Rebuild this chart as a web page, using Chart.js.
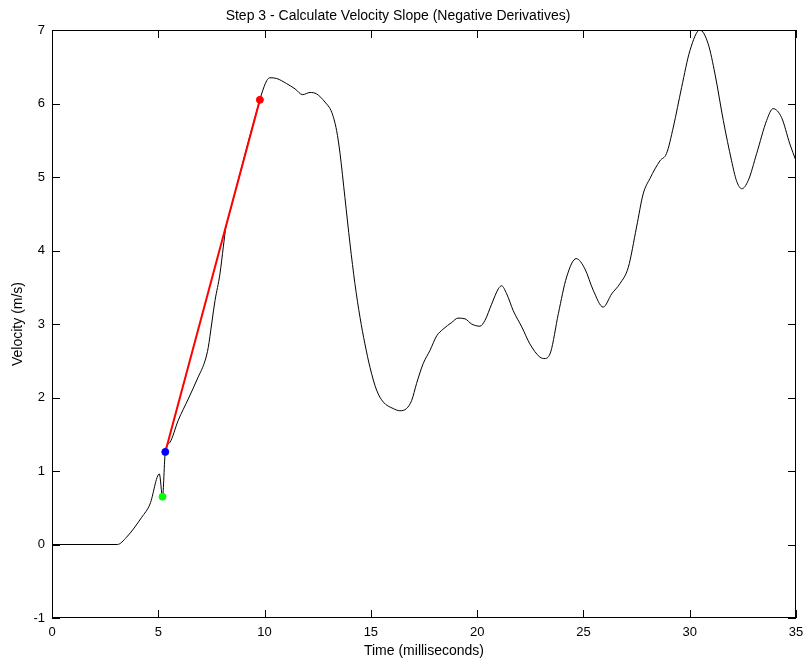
<!DOCTYPE html>
<html>
<head>
<meta charset="utf-8">
<script src="https://cdn.jsdelivr.net/npm/chart.js@4"></script>
<style>
  body { margin: 0; background: #fff; }
  canvas { display: block; }
</style>
</head>
<body>
<canvas id="velocityChart" width="805" height="663"></canvas>
<script>
// Velocity trace (ms, m/s)
const timeMs = [0, 3.07, 3.51, 4.22, 4.61, 5.05, 5.2, 5.33, 5.55, 5.94, 6.41, 6.88, 7.2, 7.35, 7.51, 7.67, 7.9, 8.06, 8.18, 8.3,
  8.84, 9.3, 9.78, 9.86, 10.1, 10.25, 10.57, 11.04, 11.43, 11.79, 12.14, 12.45, 12.84, 13.16, 13.39, 13.55, 13.78, 14.02, 14.25,
  14.49, 14.72, 14.96, 15.27, 15.58, 16.05, 16.37, 16.68, 16.92, 17.15, 17.46, 17.78, 18.1, 18.4, 18.8, 19.1, 19.43, 19.74,
  20.13, 20.37, 20.68, 21.0, 21.15, 21.39, 21.7, 22.1, 22.48, 22.95, 23.2, 23.46, 23.82, 24.21, 24.66, 25.07, 25.46, 25.93,
  26.33, 26.72, 27.11, 27.5, 27.81, 28.13, 28.6, 28.91, 29.23, 29.62, 30.01, 30.48, 30.87, 31.19, 31.58, 31.97, 32.2, 32.45,
  32.75, 33.15, 33.62, 33.92, 34.32, 34.71, 35];
const velocity = [0, 0, 0.10, 0.37, 0.55, 0.96, 0.65, 1.26, 1.39, 1.69, 1.98, 2.28, 2.5, 2.68, 3.0, 3.32, 3.68, 4.05, 4.32, 4.45,
  5.04, 5.55, 6.05, 6.13, 6.31, 6.35, 6.34, 6.27, 6.2, 6.12, 6.15, 6.13, 6.02, 5.88, 5.63, 5.32, 4.72, 4.09, 3.55,
  3.09, 2.73, 2.41, 2.10, 1.94, 1.85, 1.82, 1.85, 1.96, 2.19, 2.46, 2.64, 2.84, 2.93, 3.02, 3.08, 3.07, 3.0,
  2.97, 3.05, 3.27, 3.48, 3.52, 3.41, 3.18, 2.96, 2.73, 2.55, 2.53, 2.62, 3.14, 3.64, 3.89, 3.75, 3.46, 3.23,
  3.41, 3.55, 3.77, 4.32, 4.77, 4.98, 5.22, 5.32, 5.68, 6.22, 6.72, 7.0, 6.81, 6.4, 5.77, 5.22, 4.95, 4.84,
  4.95, 5.32, 5.77, 5.93, 5.81, 5.45, 5.22];

// slope line and its marker points
const slopeStart = { x: 5.33, y: 1.26 };
const slopeEnd = { x: 9.78, y: 6.05 };
const minPoint = { x: 5.2, y: 0.65 };

const xTicks = [0, 5, 10, 15, 20, 25, 30, 35];
const yTicks = [-1, 0, 1, 2, 3, 4, 5, 6, 7];

Chart.defaults.font.family = "'Liberation Sans', Arial, sans-serif";
Chart.defaults.font.size = 12;
Chart.defaults.color = "#000";

// box around the plot with inward tick marks on all four sides
const boxTicks = {
  id: "boxTicks",
  afterDraw(chart) {
    const { ctx, chartArea: a, scales } = chart;
    const len = 8;
    ctx.save();
    ctx.strokeStyle = "#000";
    ctx.lineWidth = 1;
    ctx.strokeRect(a.left + 0.5, a.top + 0.5, a.right - a.left - 1, a.bottom - a.top - 1);
    ctx.beginPath();
    xTicks.forEach((v) => {
      const px = Math.round(scales.x.getPixelForValue(v)) + 0.5;
      ctx.moveTo(px, a.bottom);
      ctx.lineTo(px, a.bottom - len);
      ctx.moveTo(px, a.top);
      ctx.lineTo(px, a.top + len);
    });
    yTicks.forEach((v) => {
      const py = Math.round(scales.y.getPixelForValue(v)) + 0.5;
      ctx.moveTo(a.left, py);
      ctx.lineTo(a.left + len, py);
      ctx.moveTo(a.right, py);
      ctx.lineTo(a.right - len, py);
    });
    ctx.stroke();
    ctx.restore();
  },
};

const ctx = document.getElementById("velocityChart").getContext("2d");
new Chart(ctx, {
  type: "scatter",
  data: {
    datasets: [
      {
        label: "slope end",
        data: [slopeEnd],
        backgroundColor: "#ff0000",
        borderColor: "#ff0000",
        pointRadius: 3.5,
        order: 0,
      },
      {
        label: "slope start",
        data: [slopeStart],
        backgroundColor: "#0000ff",
        borderColor: "#0000ff",
        pointRadius: 3.5,
        order: 0,
      },
      {
        label: "min",
        data: [minPoint],
        backgroundColor: "#00ff00",
        borderColor: "#00ff00",
        pointRadius: 3.5,
        order: 0,
      },
      {
        label: "slope",
        data: [slopeStart, slopeEnd],
        showLine: true,
        borderColor: "#ff0000",
        borderWidth: 2,
        pointRadius: 0,
        order: 1,
      },
      {
        label: "velocity",
        data: timeMs.map((t, i) => ({ x: t, y: velocity[i] })),
        showLine: true,
        borderColor: "#000",
        borderWidth: 1,
        pointRadius: 0,
        cubicInterpolationMode: "monotone",
        order: 2,
      },
    ],
  },
  options: {
    responsive: false,
    animation: false,
    layout: { padding: { top: 0, left: 0, right: 9, bottom: 0 } },
    plugins: {
      legend: { display: false },
      tooltip: { enabled: false },
      title: {
        display: true,
        text: "Step 3 - Calculate Velocity Slope (Negative Derivatives)",
        font: { size: 14, weight: "normal" },
        padding: { top: 8, bottom: 5.2 },
      },
    },
    scales: {
      x: {
        type: "linear",
        min: 0,
        max: 35,
        afterBuildTicks: (s) => { s.ticks = xTicks.map((v) => ({ value: v })); },
        afterFit: (s) => {
          s.height = 45;
          s.paddingLeft = 0;
          s.paddingRight = 0;
        },
        grid: { display: false, drawTicks: false },
        border: { display: false },
        ticks: { padding: 7, maxRotation: 0, font: { size: 13 } },
        title: { display: true, text: "Time (milliseconds)", font: { size: 14 }, padding: { top: 0, bottom: 3 } },
      },
      y: {
        type: "linear",
        min: -1,
        max: 7,
        afterBuildTicks: (s) => { s.ticks = yTicks.map((v) => ({ value: v })); },
        afterFit: (s) => { s.width = 52; },
        grid: { display: false, drawTicks: false },
        border: { display: false },
        ticks: { padding: 7, font: { size: 13 } },
        title: { display: true, text: "Velocity (m/s)", font: { size: 14 }, padding: { top: 10, bottom: 0 } },
      },
    },
  },
  plugins: [boxTicks],
});
</script>
</body>
</html>
